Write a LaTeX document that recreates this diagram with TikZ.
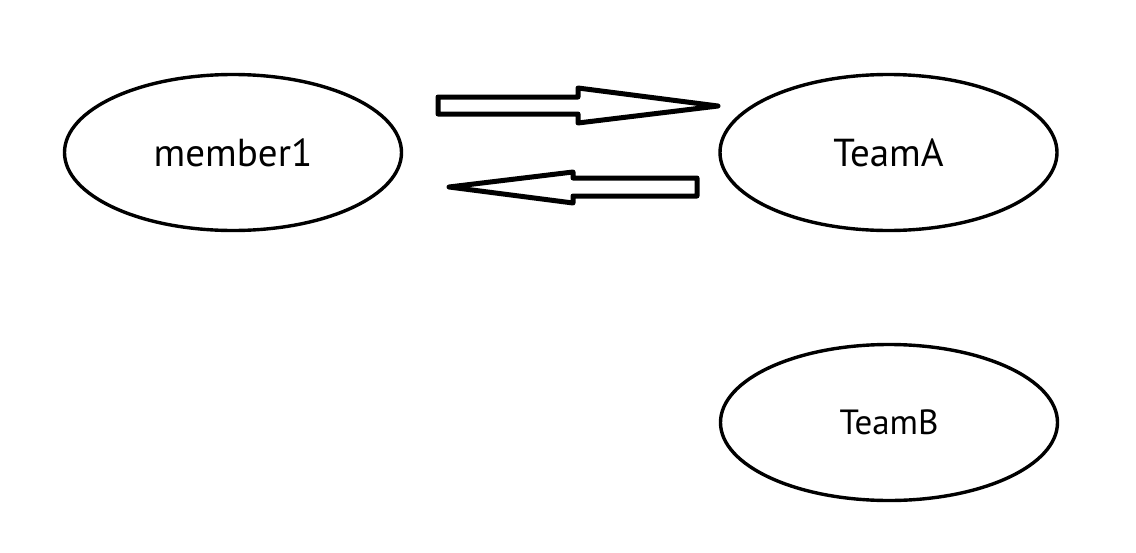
\documentclass[tikz,border=0pt]{standalone}
\usepackage{fontspec}
\setmainfont{PT Sans}
\usetikzlibrary{shapes.geometric}
\begin{document}
\begin{tikzpicture}[x=0.5pt,y=-0.5pt,
  oval/.style={ellipse,draw=black,line width=1.7pt,inner sep=0pt,
    minimum width=168.5pt,minimum height=78pt},
  blockarrow/.style={draw=black,line width=2.5pt,line join=round,fill=white},
  bigtext/.style={font=\fontsize{19.5pt}{22pt}\selectfont},
  smalltext/.style={font=\fontsize{17.5pt}{20pt}\selectfont}]
\useasboundingbox (0,0) rectangle (1136,552);
\node[oval,bigtext] (m1) at (233,152.5) {member1};
\node[oval,bigtext] (ta) at (888.5,152.5) {TeamA};
\node[oval,smalltext] (tb) at (889,422.5) {TeamB};
% right block arrow
\draw[blockarrow] (438,97) -- (578,97) -- (578,88) -- (718,106)
  -- (578,123) -- (578,114) -- (438,114) -- cycle;
% left block arrow
\draw[blockarrow] (697,178) -- (573,178) -- (573,172) -- (449,187)
  -- (573,203) -- (573,196) -- (697,196) -- cycle;
\end{tikzpicture}
\end{document}
